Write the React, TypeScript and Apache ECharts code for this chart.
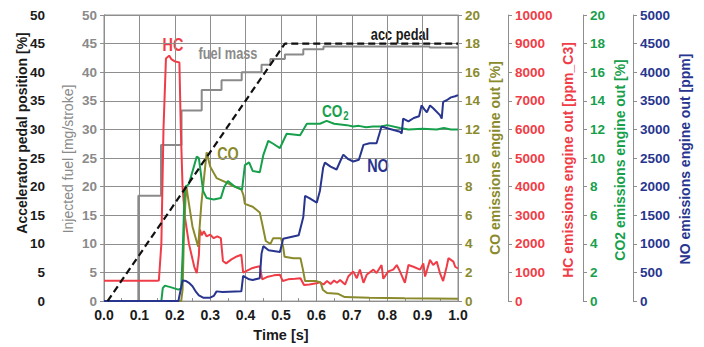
import React, { useEffect, useRef } from "react";
import * as echarts from "echarts";

// ---- data (time in s, values in each axis' own unit) ----
const accPedal: number[][] = [
  [0.01, 0], [0.511, 45], [1.0, 45],
];

const fuelMass: number[][] = [
  [0, 0], [0.097, 18.4], [0.161, 27.3], [0.219, 33.3], [0.276, 36.9], [0.332, 38.6],
  [0.389, 40.0], [0.445, 41.3], [0.47, 42.3], [0.511, 43.1], [0.563, 44.0], [0.62, 44.5],
  [0.9, 44.5], [0.92, 44.3], [1.0, 44.3],
];

const hcPpm: number[][] = [
  [0, 710], [0.15, 710], [0.155, 720], [0.162, 2000], [0.168, 6000], [0.175, 8480],
  [0.184, 8580], [0.19, 8460], [0.2, 8380], [0.213, 8340], [0.217, 6000], [0.222, 3960],
  [0.229, 2900], [0.24, 2000], [0.255, 1200], [0.262, 980], [0.268, 1600], [0.271, 2500],
  [0.276, 2300], [0.282, 2440], [0.29, 2260], [0.3, 2320], [0.31, 2200], [0.32, 2260],
  [0.33, 2200], [0.336, 1400], [0.345, 1320], [0.36, 1460], [0.375, 1560], [0.388, 1620],
  [0.393, 1000], [0.4, 1040], [0.42, 1160], [0.44, 1220], [0.447, 760], [0.46, 840],
  [0.48, 900], [0.497, 920], [0.505, 700], [0.52, 760], [0.54, 780], [0.555, 800],
  [0.565, 560], [0.58, 580], [0.6, 620], [0.61, 660], [0.62, 580], [0.63, 700],
  [0.64, 600], [0.65, 720], [0.658, 640], [0.667, 740], [0.681, 580], [0.69, 860],
  [0.704, 1040], [0.714, 800], [0.723, 1100], [0.733, 640], [0.742, 920], [0.761, 1100],
  [0.77, 980], [0.784, 1260], [0.789, 780], [0.803, 1040], [0.817, 1100], [0.827, 1260],
  [0.836, 1040], [0.85, 640], [0.86, 1260], [0.874, 1200], [0.893, 1100], [0.902, 1320],
  [0.907, 860], [0.921, 1440], [0.93, 1260], [0.94, 1380], [0.949, 980], [0.958, 700],
  [0.968, 1200], [0.973, 1500], [0.987, 1380], [0.992, 1200], [1.0, 1140],
];

const coPct: number[][] = [
  [0, 0], [0.218, 0], [0.222, 0.8], [0.226, 4.8], [0.232, 8.1], [0.24, 6.8], [0.25, 5.2],
  [0.266, 3.8], [0.275, 6.8], [0.29, 10.4], [0.3, 9.4], [0.318, 8.6], [0.345, 8.3],
  [0.36, 8.1], [0.388, 7.8], [0.394, 7.4], [0.398, 6.8], [0.42, 6.6], [0.44, 6.2],
  [0.447, 5.4], [0.457, 4.2], [0.47, 4.0], [0.478, 4.4], [0.5, 4.4], [0.506, 3.8],
  [0.51, 3.1], [0.535, 3.0], [0.555, 3.0], [0.562, 2.2], [0.568, 1.4], [0.6, 1.4],
  [0.612, 1.3], [0.618, 0.8], [0.63, 0.56], [0.66, 0.52], [0.68, 0.28], [0.75, 0.24],
  [0.85, 0.2], [1.0, 0.16],
];

const co2Pct: number[][] = [
  [0, 0], [0.162, 0], [0.166, 0.9], [0.172, 1.08], [0.19, 0.96], [0.21, 0.8], [0.218, 0.88],
  [0.222, 3.2], [0.228, 7.9], [0.24, 8.2], [0.262, 10.1], [0.268, 10.0], [0.28, 7.7],
  [0.29, 7.2], [0.31, 7.1], [0.33, 7.2], [0.34, 8.0], [0.35, 8.4], [0.37, 8.0], [0.39, 7.8],
  [0.398, 9.5], [0.41, 9.7], [0.42, 9.1], [0.44, 9.0], [0.45, 10.2], [0.464, 11.2],
  [0.478, 11.0], [0.497, 10.7], [0.516, 11.7], [0.554, 11.6], [0.573, 12.4], [0.61, 12.4],
  [0.629, 12.6], [0.65, 12.4], [0.686, 12.3], [0.704, 12.2], [0.72, 12.25], [0.74, 12.15],
  [0.76, 12.2], [0.783, 12.2], [0.8, 12.3], [0.836, 12.1], [0.86, 12.0], [0.9, 12.05],
  [0.94, 12.0], [0.96, 12.1], [0.98, 12.0], [1.0, 12.0],
];

const noPpm: number[][] = [
  [0, 0], [0.21, 0], [0.215, 150], [0.222, 360], [0.232, 350], [0.24, 320], [0.25, 260],
  [0.26, 160], [0.268, 100], [0.28, 60], [0.3, 60], [0.31, 90], [0.318, 170], [0.335, 160],
  [0.388, 170], [0.393, 440], [0.41, 380], [0.42, 370], [0.44, 400], [0.445, 830],
  [0.45, 960], [0.465, 890], [0.497, 860], [0.506, 1090], [0.55, 1150], [0.563, 1470],
  [0.568, 1840], [0.58, 1800], [0.601, 1720], [0.61, 1930], [0.619, 2330], [0.624, 2420],
  [0.64, 2350], [0.657, 2300], [0.667, 2440], [0.676, 2560], [0.69, 2480], [0.704, 2440],
  [0.72, 2470], [0.733, 2730], [0.75, 2760], [0.77, 2760], [0.784, 3050], [0.8, 3020],
  [0.836, 2960], [0.841, 2930], [0.845, 3190], [0.86, 3140], [0.875, 3200], [0.89, 3230],
  [0.897, 3420], [0.905, 3350], [0.912, 3300], [0.921, 3420], [0.93, 3370], [0.949, 3250],
  [0.954, 3190], [0.958, 3480], [0.968, 3510], [0.98, 3560], [0.992, 3580], [1.0, 3600],
];

const FONT = "'Liberation Sans', Arial, sans-serif";
const GRID = "#8e8e8e";
const C_BLACK = "#1a1a1a";
const C_GRAY = "#8a8a8a";
const C_CO = "#8a8a2c";
const C_HC = "#f03c46";
const C_CO2 = "#17a04c";
const C_NO = "#27358f";

function yAx(pos: string, offset: number, max: number, interval: number, color: string, split = false) {
  return {
    type: "value",
    position: pos,
    offset,
    min: 0,
    max,
    interval,
    axisLine: { show: true, lineStyle: { color: GRID, width: 1 } },
    axisTick: { show: true, length: 4, lineStyle: { color: GRID } },
    axisLabel: {
      color, fontWeight: "bold", fontSize: 13.5, fontFamily: FONT, margin: 7,
      formatter: (v: number) => String(v),
    },
    splitLine: { show: split, lineStyle: { color: GRID, width: 1 } },
  };
}

function axisTitle(x: number, y: number, text: string, color: string, weight = "bold") {
  return {
    type: "text",
    x,
    y,
    rotation: Math.PI / 2,
    style: {
      text,
      fill: color,
      font: `${weight} 14px ${FONT}`,
      align: "center",
      verticalAlign: "middle",
      textAlign: "center",
      textVerticalAlign: "middle",
    },
  };
}

function label(x: number, y: number, text: string, color: string, size: number) {
  return {
    type: "text",
    x,
    y,
    scaleX: 0.8,
    style: {
      text,
      fill: color,
      font: `bold ${size}px ${FONT}`,
      align: "center",
      verticalAlign: "middle",
      textAlign: "center",
      textVerticalAlign: "middle",
    },
  };
}

function line(name: string, data: number[][], yAxisIndex: number, color: string, extra: any = {}) {
  return {
    name,
    type: "line",
    data,
    yAxisIndex,
    showSymbol: false,
    symbol: "none",
    lineStyle: { color, width: 2 },
    itemStyle: { color },
    ...extra,
  };
}

export default function App() {
  const ref = useRef<HTMLDivElement>(null);
  useEffect(() => {
    if (!ref.current) return;
    const chart = echarts.init(ref.current, undefined, { renderer: "svg" });
    chart.setOption({
      animation: false,
      backgroundColor: "#ffffff",
      grid: { left: 104, right: 246, top: 15, bottom: 42, show: true, borderColor: GRID, borderWidth: 1 },
      xAxis: {
        type: "value",
        min: 0,
        max: 1,
        interval: 0.1,
        name: "Time [s]",
        nameLocation: "middle",
        nameGap: 24,
        nameTextStyle: { color: C_BLACK, fontWeight: "bold", fontSize: 14.5, fontFamily: FONT },
        axisLine: { show: true, lineStyle: { color: GRID } },
        axisTick: { show: true, inside: true, length: 3, lineStyle: { color: GRID } },
        minorTick: { show: true, splitNumber: 2, length: 3, lineStyle: { color: GRID } },
        axisLabel: {
          color: C_BLACK, fontWeight: "bold", fontSize: 14, fontFamily: FONT, margin: 7,
          formatter: (v: number) => v.toFixed(1),
        },
        splitLine: { show: true, lineStyle: { color: GRID, width: 1 } },
      },
      yAxis: [
        yAx("left", 52, 50, 5, C_BLACK),
        yAx("left", 0, 50, 5, C_GRAY, true),
        yAx("right", 0, 20, 2, C_CO),
        yAx("right", 50, 10000, 1000, C_HC),
        yAx("right", 125, 20, 2, C_CO2),
        yAx("right", 175, 5000, 500, C_NO),
      ],
      series: [
        line("fuel mass", fuelMass, 1, C_GRAY, { step: "end" }),
        line("HC", hcPpm, 3, C_HC),
        line("CO", coPct, 2, C_CO),
        line("CO2", co2Pct, 4, C_CO2),
        line("NO", noPpm, 5, C_NO),
        line("acc pedal", accPedal, 0, "#111111", { lineStyle: { color: "#111111", width: 2.2, type: [7, 4] } }),
      ],
      graphic: [
        axisTitle(22, 133, "Accelerator pedal position [%]", C_BLACK),
        axisTitle(68, 159, "Injected fuel [mg/stroke]", C_GRAY, "normal"),
        axisTitle(495, 158, "CO emissions engine out [%]", C_CO),
        axisTitle(568, 160, "HC emissions engine out [ppm_C3]", C_HC),
        axisTitle(620, 160, "CO2 emissions engine out [%]", C_CO2),
        axisTitle(685, 159, "NO emissions engine out [ppm]", C_NO),
        label(173, 44, "HC", C_HC, 18),
        label(228, 53, "fuel mass", C_GRAY, 16),
        label(400, 34, "acc pedal", C_BLACK, 16),
        label(228, 153, "CO", C_CO, 18),
        label(378, 165, "NO", C_NO, 18),
        {
          type: "text",
          x: 322,
          y: 101,
          scaleX: 0.8,
          style: {
            text: "{a|CO}{b|2}",
            fill: C_CO2,
            font: `bold 17px ${FONT}`,
            rich: {
              a: { fill: C_CO2, fontSize: 17, fontWeight: "bold", fontFamily: FONT, lineHeight: 20 },
              b: { fill: C_CO2, fontSize: 12, fontWeight: "bold", fontFamily: FONT, lineHeight: 20, padding: [9, 0, 0, 1] },
            },
          },
        },
      ],
    });
    return () => chart.dispose();
  }, []);
  return <div ref={ref} style={{ position: "fixed", left: 0, top: 0, width: 704, height: 347 }} />;
}
